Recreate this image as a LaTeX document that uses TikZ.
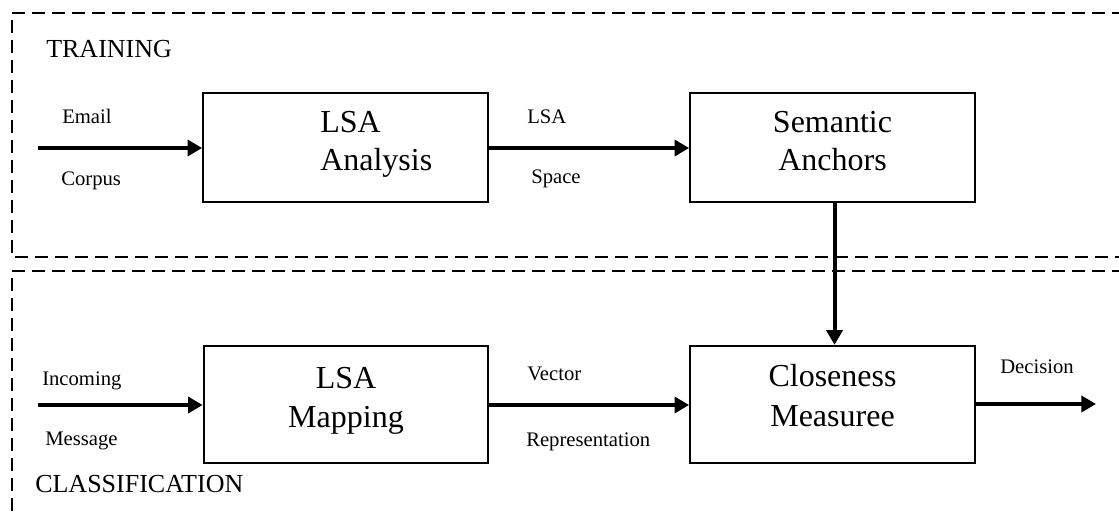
\documentclass[tikz,border=0pt]{standalone}
\usepackage{fontspec}
\setmainfont{Liberation Serif}
\usetikzlibrary{arrows.meta}
\begin{document}
\begin{tikzpicture}[x=0.75pt,y=-0.75pt,
  frame/.style={line width=2pt, dash pattern=on 9.5pt off 5.5pt},
  blocktop/.style={draw, line width=1.5pt, minimum width=213.5pt, minimum height=81.75pt, inner sep=0pt},
  blockbot/.style={draw, line width=1.5pt, minimum width=213.5pt, minimum height=88pt, inner sep=0pt},
  bigtext/.style={font=\fontsize{24}{29}\selectfont, inner sep=0pt, anchor=base},
  lbl/.style={font=\fontsize{15.5}{18}\selectfont, inner sep=0pt, anchor=base west},
  phase/.style={font=\fontsize{19.5}{23}\selectfont, inner sep=0pt, anchor=base west},
  flow/.style={line width=3pt, -{Triangle[length=11pt,width=12pt]}}]
\useasboundingbox (0,0) rectangle (1119,512);

% stage frames
\draw[frame] (1125,13) -- (12,13) -- (12,257) -- (1125,257);
\draw[frame] (1125,271) -- (12,271) -- (12,520);

\node[phase] (ttrain) at (46,57) {TRAINING};
\node[phase] (tclass) at (35,492) {CLASSIFICATION};

% processing blocks
\node[blocktop] (anal) at (345.5,147.5) {};
\node[blocktop] (sem)  at (832.5,147.5) {};
\node[blockbot] (map)  at (346,404.5) {};
\node[blockbot] (clos) at (832.5,404.5) {};

% block captions, one node per line
\node[bigtext, anchor=base west] (tanal1) at (320,132) {LSA};
\node[bigtext, anchor=base west] (tanal2) at (320,170) {Analysis};
\node[bigtext] (tsem1) at (832.5,132) {Semantic};
\node[bigtext] (tsem2) at (832.5,170) {Anchors};
\node[bigtext] (tmap1) at (346,388) {LSA};
\node[bigtext] (tmap2) at (346,427) {Mapping};
\node[bigtext] (tclos1) at (832.5,386) {Closeness};
\node[bigtext] (tclos2) at (832.5,426) {Measuree};

% free ends
\coordinate (in1) at (38,148);
\coordinate (in2) at (38,405);
\coordinate (out) at (1096,404);

% connectors
\draw[flow] (in1) -- (anal.west |- in1);
\draw[flow] (anal.east |- in1) -- (sem.west |- in1);
\draw[flow] (in2) -- (map.west |- in2);
\draw[flow] (map.east |- in2) -- (clos.west |- in2);
\draw[flow] (clos.east |- out) -- (out);
\draw[flow] ([xshift=1.5pt]sem.south) -- ([xshift=1.5pt]clos.north);

% connector labels
\node[lbl] (lemail) at (62,123) {Email};
\node[lbl] (lcorp) at (61,185) {Corpus};
\node[lbl] (llsa) at (527,123) {LSA};
\node[lbl] (lspace) at (531,183) {Space};
\node[lbl] (linc) at (42,385) {Incoming};
\node[lbl] (lmsg) at (45,445) {Message};
\node[lbl] (lvec) at (527,380) {Vector};
\node[lbl] (lrep) at (526,446) {Representation};
\node[lbl] (ldec) at (1000,373) {Decision};
\end{tikzpicture}
\end{document}
